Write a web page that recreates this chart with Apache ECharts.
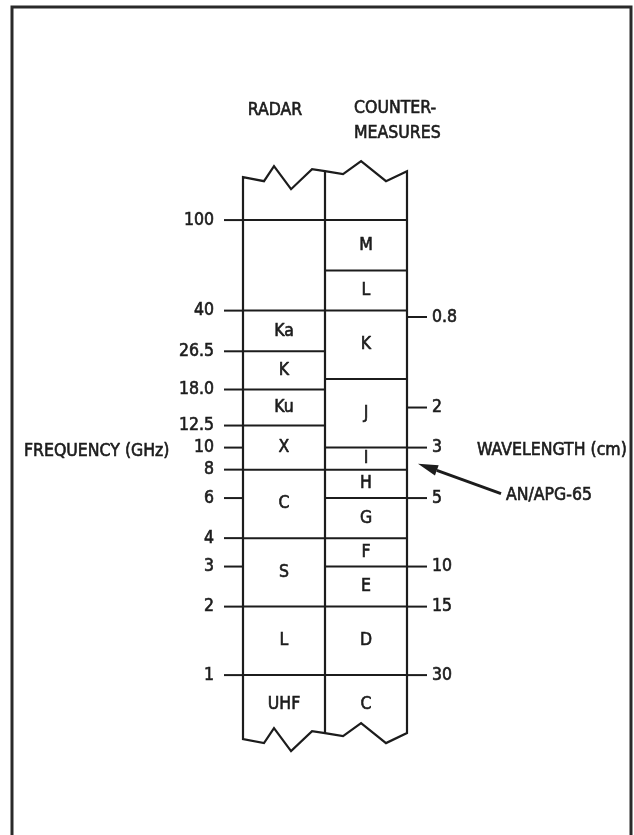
<!DOCTYPE html>
<html>
<head>
<meta charset="utf-8">
<script src="https://cdn.jsdelivr.net/npm/echarts@6/dist/echarts.min.js"></script>
<style>
  html, body { margin: 0; padding: 0; background: #fff; }
  #chart { width: 634px; height: 835px; }
</style>
</head>
<body>
<div id="chart"></div>
<script>
// radar bands, GHz (null = runs out to the break line)
const radarNames = ['UHF', 'L', 'S', 'C', 'X', 'Ku', 'K', 'Ka', '']
const radarLow = [null, 1, 2, 4, 8, 12.5, 18, 26.5, 40]
const radarHigh = [1, 2, 4, 8, 12.5, 18, 26.5, 40, 100]

// countermeasures bands, GHz
const ecmNames = ['C', 'D', 'E', 'F', 'G', 'H', 'I', 'J', 'K', 'L', 'M']
const ecmLow = [null, 1, 2, 3, 4, 6, 8, 10, 20, 40, 60]
const ecmHigh = [1, 2, 3, 4, 6, 8, 10, 20, 40, 60, 100]

// left scale (GHz) and right scale (cm)
const freqTicks = [1, 2, 3, 4, 6, 8, 10, 12.5, 18, 26.5, 40, 100]
const freqLabels = ['1', '2', '3', '4', '6', '8', '10', '12.5', '18.0', '26.5', '40', '100']
const waveTicks = [30, 15, 10, 5, 3, 2, 0.8]
const waveLabels = ['30', '15', '10', '5', '3', '2', '0.8']

// AN/APG-65 pointer, GHz
const apgFreq = 8.5

const F_MIN = 0.45
const F_MAX = 180
const COL_TOP = 164 // break line at the top
const COL_BOT = 0.556 // break line at the bottom
const INK = '#1c1c1c'
const FONT = "'DejaVu Sans Condensed', 'Liberation Sans Narrow', 'DejaVu Sans', sans-serif"

// zigzag of the break lines: [fraction of the width, dy px]
const ZIG = [[0, 6], [0.128, 10], [0.189, -5], [0.293, 18], [0.421, -2], [0.5, 0],
  [0.61, 3], [0.72, -10], [0.872, 10], [1, 0]]

function txt (x, y, text, align) {
  return {
    type: 'text',
    x: x,
    y: y,
    style: {
      text: text,
      fill: INK,
      stroke: INK,
      lineWidth: 0.6,
      font: '17.5px ' + FONT,
      align: align || 'center',
      verticalAlign: 'middle'
    }
  }
}

function bandRenderer (names) {
  return function (params, api) {
    const col = api.value(0)
    const lo = api.value(1)
    const hi = api.value(2)
    const a = api.coord([col, hi])
    const b = api.coord([col + 1, hi])
    const m = api.coord([col + 0.5, Math.sqrt(lo * hi)])
    return {
      type: 'group',
      children: [
        { type: 'line', shape: { x1: a[0], y1: a[1], x2: b[0], y2: b[1] }, style: { stroke: INK, lineWidth: 2 } },
        txt(m[0], m[1], names[params.dataIndex])
      ]
    }
  }
}

function renderOutline (params, api) {
  const tl = api.coord([0, COL_TOP])
  const tr = api.coord([2, COL_TOP])
  const bl = api.coord([0, COL_BOT])
  const w = tr[0] - tl[0]
  const top = ZIG.map(([f, dy]) => [tl[0] + f * w, tl[1] + dy])
  const bottom = ZIG.map(([f, dy]) => [bl[0] + f * w, bl[1] + dy]).reverse()
  const mid = (tl[0] + tr[0]) / 2
  return {
    type: 'group',
    children: [
      { type: 'polygon', shape: { points: top.concat(bottom) }, style: { fill: 'none', stroke: INK, lineWidth: 2.2, lineJoin: 'miter' } },
      { type: 'line', shape: { x1: mid, y1: tl[1], x2: mid, y2: bl[1] }, style: { stroke: INK, lineWidth: 2.2 } }
    ]
  }
}

function renderFreqTick (params, api) {
  const p = api.coord([0, api.value(1)])
  return {
    type: 'group',
    children: [
      { type: 'line', shape: { x1: p[0] - 19, y1: p[1], x2: p[0], y2: p[1] }, style: { stroke: INK, lineWidth: 2 } },
      txt(p[0] - 29, p[1], freqLabels[params.dataIndex], 'right')
    ]
  }
}

function renderWaveTick (params, api) {
  const p = api.coord([2, api.value(1)])
  return {
    type: 'group',
    children: [
      { type: 'line', shape: { x1: p[0], y1: p[1], x2: p[0] + 20, y2: p[1] }, style: { stroke: INK, lineWidth: 2 } },
      txt(p[0] + 25, p[1], waveLabels[params.dataIndex], 'left')
    ]
  }
}

function renderPointer (params, api) {
  const p = api.coord([2, api.value(1)])
  const tip = [p[0] + 11, p[1]]
  const tail = [tip[0] + 83, tip[1] + 30]
  const len = Math.hypot(tail[0] - tip[0], tail[1] - tip[1])
  const ux = (tail[0] - tip[0]) / len
  const uy = (tail[1] - tip[1]) / len
  const hx = tip[0] + ux * 20
  const hy = tip[1] + uy * 20
  return {
    type: 'group',
    children: [
      { type: 'line', shape: { x1: hx, y1: hy, x2: tail[0], y2: tail[1] }, style: { stroke: INK, lineWidth: 3 } },
      { type: 'polygon', shape: { points: [tip, [hx - uy * 5.5, hy + ux * 5.5], [hx + uy * 5.5, hy - ux * 5.5]] }, style: { fill: INK } },
      txt(tail[0] + 5, tail[1] + 2, 'AN/APG-65', 'left')
    ]
  }
}

const chart = echarts.init(document.getElementById('chart'))
chart.setOption({
  animation: false,
  grid: { left: 243, right: 227, top: 162, bottom: 81 },
  xAxis: { type: 'value', min: 0, max: 2, show: false },
  yAxis: [
    { type: 'log', min: F_MIN, max: F_MAX, show: false },
    { type: 'log', min: 30 / F_MAX, max: 30 / F_MIN, inverse: true, show: false }
  ],
  graphic: [
    { type: 'rect', shape: { x: 12, y: 7, width: 619, height: 840 }, style: { fill: 'none', stroke: '#2a2a2a', lineWidth: 3 } },
    txt(275, 110, 'RADAR'),
    txt(354, 108, 'COUNTER-', 'left'),
    txt(354, 133, 'MEASURES', 'left'),
    txt(24, 451, 'FREQUENCY (GHz)', 'left'),
    txt(477, 450, 'WAVELENGTH (cm)', 'left')
  ],
  series: [
    { type: 'custom', renderItem: renderOutline, data: [[0, COL_TOP]], clip: false, silent: true },
    {
      type: 'custom',
      renderItem: bandRenderer(radarNames),
      data: radarNames.map((n, i) => [0, radarLow[i] ?? COL_BOT, radarHigh[i]]),
      silent: true
    },
    {
      type: 'custom',
      renderItem: bandRenderer(ecmNames),
      data: ecmNames.map((n, i) => [1, ecmLow[i] ?? COL_BOT, ecmHigh[i]]),
      silent: true
    },
    { type: 'custom', renderItem: renderFreqTick, data: freqTicks.map(v => [0, v]), clip: false, silent: true },
    { type: 'custom', yAxisIndex: 1, renderItem: renderWaveTick, data: waveTicks.map(v => [2, v]), clip: false, silent: true },
    { type: 'custom', renderItem: renderPointer, data: [[2, apgFreq]], clip: false, silent: true }
  ]
})
</script>
</body>
</html>
